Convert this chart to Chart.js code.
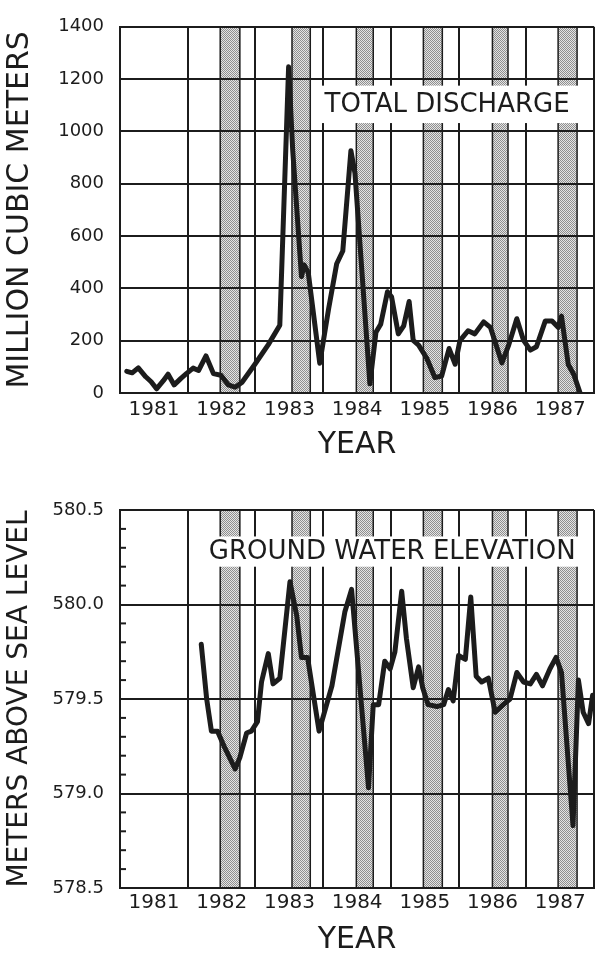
<!DOCTYPE html>
<html>
<head>
<meta charset="utf-8">
<script src="https://cdn.jsdelivr.net/npm/chart.js@4.4.0/dist/chart.umd.min.js"></script>
<style>
  html, body { margin: 0; padding: 0; background: #fff; }
  .panel { position: absolute; left: 0; width: 601px; }
  #topPanel { top: 0; height: 470px; }
  #bottomPanel { top: 470px; height: 485px; }
</style>
</head>
<body>
<div class="panel" id="topPanel"><canvas id="discharge" width="601" height="470"></canvas></div>
<div class="panel" id="bottomPanel"><canvas id="elevation" width="601" height="485"></canvas></div>
<script>
// shaded season bands (decimal years)
const shadedStart = [1982.48, 1983.54, 1984.49, 1985.48, 1986.50, 1987.47];
const shadedEnd   = [1982.77, 1983.81, 1984.74, 1985.76, 1986.73, 1987.75];

// total discharge, million cubic meters
const dischargeYears = [1981.10, 1981.18, 1981.27, 1981.38, 1981.46, 1981.54, 1981.64, 1981.71, 1981.80, 1981.90,
  1981.98, 1982.08, 1982.16, 1982.27, 1982.38, 1982.49, 1982.60, 1982.70, 1982.80, 1982.99,
  1983.19, 1983.36, 1983.49, 1983.55, 1983.68, 1983.72, 1983.78, 1983.95, 1984.08, 1984.20,
  1984.29, 1984.41, 1984.47, 1984.69, 1984.78, 1984.85, 1984.95, 1985.01, 1985.11, 1985.19,
  1985.27, 1985.33, 1985.41, 1985.53, 1985.65, 1985.75, 1985.86, 1985.95, 1986.02, 1986.14,
  1986.24, 1986.37, 1986.47, 1986.64, 1986.74, 1986.86, 1986.96, 1987.06, 1987.15, 1987.28,
  1987.38, 1987.47, 1987.52, 1987.62, 1987.70, 1987.79];
const dischargeValues = [83, 77, 96, 62, 43, 16, 47, 72, 31, 56,
  74, 95, 86, 142, 74, 68, 31, 22, 40, 109,
  185, 259, 1247, 930, 445, 490, 460, 114, 321, 494,
  543, 926, 840, 35, 232, 263, 387, 368, 226, 257,
  350, 201, 183, 133, 59, 65, 170, 110, 200, 238,
  226, 272, 251, 115, 183, 284, 201, 164, 177, 275,
  275, 251, 294, 109, 72, 4];

// ground water elevation, meters above sea level
const elevationYears = [1982.20, 1982.28, 1982.35, 1982.44, 1982.55, 1982.70, 1982.77, 1982.87, 1982.94, 1983.03,
  1983.09, 1983.19, 1983.26, 1983.36, 1983.51, 1983.61, 1983.68, 1983.77, 1983.94, 1984.13,
  1984.32, 1984.42, 1984.67, 1984.74, 1984.82, 1984.91, 1984.99, 1985.06, 1985.16, 1985.23,
  1985.33, 1985.41, 1985.47, 1985.55, 1985.68, 1985.78, 1985.85, 1985.92, 1986.00, 1986.10,
  1986.18, 1986.26, 1986.34, 1986.44, 1986.54, 1986.66, 1986.76, 1986.86, 1986.96, 1987.06,
  1987.15, 1987.24, 1987.35, 1987.44, 1987.52, 1987.69, 1987.77, 1987.84, 1987.92, 1987.98];
const elevationValues = [579.79, 579.50, 579.33, 579.33, 579.24, 579.13, 579.19, 579.32, 579.33, 579.38,
  579.59, 579.74, 579.58, 579.61, 580.12, 579.94, 579.72, 579.72, 579.33, 579.57,
  579.96, 580.08, 579.03, 579.47, 579.47, 579.70, 579.66, 579.75, 580.07, 579.82,
  579.56, 579.67, 579.56, 579.47, 579.46, 579.47, 579.55, 579.49, 579.73, 579.71,
  580.04, 579.62, 579.59, 579.61, 579.43, 579.47, 579.50, 579.64, 579.59, 579.58,
  579.63, 579.57, 579.66, 579.72, 579.64, 578.83, 579.60, 579.43, 579.37, 579.52];

const FONT = '"DejaVu Sans", sans-serif';
const INK = '#1c1c1c';
Chart.defaults.font.family = FONT;
Chart.defaults.color = INK;

function makeStipple() {
  const c = document.createElement('canvas');
  c.width = 2; c.height = 2;
  const g = c.getContext('2d');
  g.fillStyle = '#e4e4e4';
  g.fillRect(0, 0, 2, 2);
  g.fillStyle = '#8f8f8f';
  g.fillRect(0, 0, 1, 1);
  g.fillRect(1, 1, 1, 1);
  return g.createPattern(c, 'repeat');
}
const stipple = makeStipple();

const bandsPlugin = {
  id: 'bands',
  beforeDraw(chart) {
    const { ctx, chartArea: a, scales: { x } } = chart;
    ctx.save();
    for (let i = 0; i < shadedStart.length; i++) {
      const x1 = x.getPixelForValue(shadedStart[i]);
      const x2 = x.getPixelForValue(shadedEnd[i]);
      ctx.fillStyle = stipple;
      ctx.fillRect(x1, a.top, x2 - x1, a.bottom - a.top);
      ctx.strokeStyle = INK;
      ctx.lineWidth = 1.5;
      ctx.beginPath();
      ctx.moveTo(x1, a.top); ctx.lineTo(x1, a.bottom);
      ctx.moveTo(x2, a.top); ctx.lineTo(x2, a.bottom);
      ctx.stroke();
    }
    ctx.restore();
  }
};

const labelBoxPlugin = {
  id: 'labelBox',
  beforeDatasetsDraw(chart, args, opts) {
    if (!opts.text) return;
    const { ctx, scales: { x, y } } = chart;
    const l = x.getPixelForValue(opts.from), r = x.getPixelForValue(opts.to);
    const t = y.getPixelForValue(opts.top), b = y.getPixelForValue(opts.bottom);
    ctx.save();
    ctx.fillStyle = '#fff';
    ctx.fillRect(l, t, r - l, b - t);
    ctx.font = '26px ' + FONT;
    ctx.fillStyle = INK;
    ctx.textAlign = 'center';
    ctx.textBaseline = 'middle';
    ctx.fillText(opts.text, x.getPixelForValue(opts.textX), (t + b) / 2 + 1);
    ctx.restore();
  }
};

const isHalf = v => Math.abs(v * 2 - Math.round(v * 2)) < 1e-6;

// little inward ticks every 0.1 m on the elevation axis
const minorTicksPlugin = {
  id: 'minorTicks',
  beforeDatasetsDraw(chart) {
    const { ctx, chartArea: a, scales: { y } } = chart;
    ctx.save();
    ctx.strokeStyle = INK;
    ctx.lineWidth = 2;
    y.ticks.forEach(t => {
      if (isHalf(t.value)) return;
      const py = y.getPixelForValue(t.value);
      ctx.beginPath();
      ctx.moveTo(a.left, py);
      ctx.lineTo(a.left + 6, py);
      ctx.stroke();
    });
    ctx.restore();
  }
};

function xAxis(height, tickPad, titlePad) {
  return {
    type: 'linear', min: 1981, max: 1988,
    afterFit: s => { s.height = height; },
    grid: { color: INK, lineWidth: 2, drawTicks: false },
    border: { color: INK, width: 2 },
    ticks: {
      stepSize: 1, autoSkip: false, maxRotation: 0, labelOffset: 34, padding: tickPad,
      font: { size: 20 }, color: INK,
      callback: v => (v < 1988 ? String(v) : '')
    },
    title: { display: true, text: 'YEAR', color: INK, font: { size: 30, lineHeight: 1 }, padding: { top: 0, bottom: titlePad } }
  };
}

function makeChart(id, cfg) {
  return new Chart(document.getElementById(id), {
    type: 'line',
    data: {
      datasets: [{
        data: cfg.xs.map((x, i) => ({ x, y: cfg.ys[i] })),
        borderColor: INK, borderWidth: 5, pointRadius: 0, tension: 0,
        borderJoinStyle: 'round', borderCapStyle: 'round'
      }]
    },
    options: {
      responsive: false,
      animation: false,
      layout: { padding: { top: cfg.padTop, right: 7, bottom: 0, left: 0 } },
      plugins: { legend: { display: false }, tooltip: { enabled: false }, labelBox: cfg.box },
      scales: { x: cfg.x, y: cfg.y }
    },
    plugins: cfg.plugins
  });
}

makeChart('discharge', {
  xs: dischargeYears, ys: dischargeValues, padTop: 16,
  x: xAxis(77, 5, 10),
  y: {
    min: 0, max: 1400,
    afterFit: s => { s.width = 120; },
    grid: { color: INK, lineWidth: 2, drawTicks: false },
    border: { color: INK, width: 2 },
    ticks: { stepSize: 200, padding: 16, font: { size: 18 }, color: INK, callback: v => String(v) },
    title: { display: true, text: 'MILLION CUBIC METERS', color: INK, font: { size: 30, lineHeight: 1 }, padding: { top: 5, bottom: 0 } }
  },
  box: { text: 'TOTAL DISCHARGE', from: 1983.97, to: 1987.93, top: 1175, bottom: 1032, textX: 1985.83 },
  plugins: [bandsPlugin, labelBoxPlugin]
});

makeChart('elevation', {
  xs: elevationYears, ys: elevationValues, padTop: 40,
  x: xAxis(67, 3, 0),
  y: {
    min: 578.5, max: 580.5,
    afterFit: s => { s.width = 120; },
    grid: { color: c => (isHalf(c.tick.value) ? INK : 'rgba(0,0,0,0)'), lineWidth: 2, drawTicks: false },
    border: { color: INK, width: 2 },
    ticks: {
      stepSize: 0.1, autoSkip: false, padding: 16, font: { size: 18 }, color: INK,
      callback: v => (isHalf(v) ? v.toFixed(1) : '')
    },
    title: { display: true, text: 'METERS ABOVE SEA LEVEL', color: INK, font: { size: 28, lineHeight: 1 }, padding: { top: 6, bottom: 0 } }
  },
  box: { text: 'GROUND WATER ELEVATION', from: 1982.18, to: 1987.93, top: 580.36, bottom: 580.20, textX: 1985.02 },
  plugins: [bandsPlugin, labelBoxPlugin, minorTicksPlugin]
});
</script>
</body>
</html>
